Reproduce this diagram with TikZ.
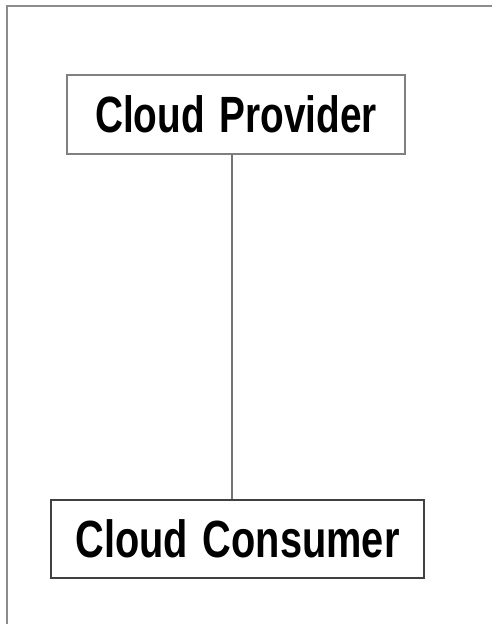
\documentclass[tikz,border=0pt]{standalone}
\usepackage{fontspec}
\setmainfont{Liberation Sans}[FakeStretch=0.76, WordSpace=1.35]
\begin{document}
\begin{tikzpicture}[x=1pt,y=-1pt,
  box/.style={rectangle, fill=white, inner sep=0pt, line width=1.6pt,
    text height=36.5pt, text depth=0pt},
  link/.style={draw=black!55, line width=1.7pt}]
  \useasboundingbox (0,0) rectangle (492,624);
  \clip (0,0) rectangle (492,624);
  % outer frame, running past the page edge on the right and bottom
  \draw[black!45, line width=1.8pt] (7,6) rectangle (520,660);
  % the two parties
  \node[box, draw=black!50, minimum width=338pt, minimum height=79pt,
    font=\fontsize{51}{56}\selectfont\bfseries] (provider) at (236,114.5) {Cloud Provider};
  \node[box, draw=black!75, minimum width=373pt, minimum height=78pt,
    font=\fontsize{52.3}{57}\selectfont\bfseries] (consumer) at (237.5,539) {Cloud Consumer};
  % connection between them
  \coordinate (top) at ([xshift=-4pt]provider.south);
  \draw[link] (top) -- (top |- consumer.north);
\end{tikzpicture}
\end{document}
